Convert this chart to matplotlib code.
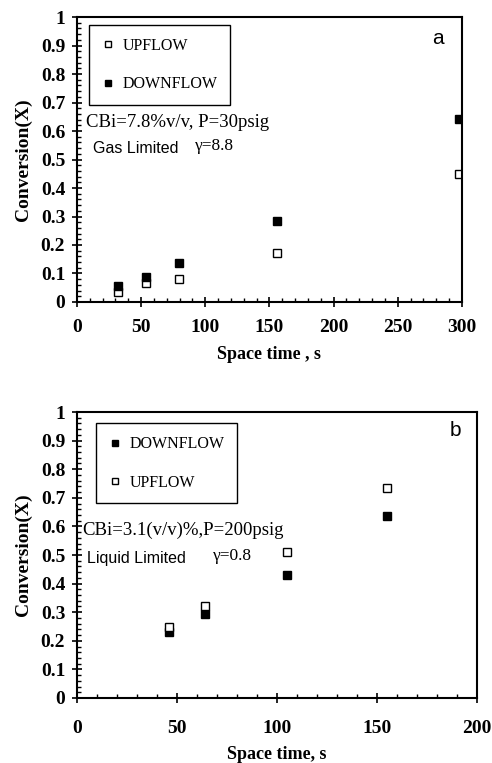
import numpy as np
import matplotlib
matplotlib.use("Agg")
import matplotlib.pyplot as plt
from matplotlib.ticker import MultipleLocator

# panel a: gas limited
time_a = [32, 53.5, 79.5, 155.5, 297.5]
up_a = [0.036, 0.065, 0.082, 0.172, 0.45]
down_a = [0.056, 0.089, 0.136, 0.283, 0.641]

# panel b: liquid limited
time_b = [46, 64, 104.8, 154.8]
up_b = [0.249, 0.322, 0.512, 0.733]
down_b = [0.232, 0.293, 0.43, 0.636]

serif = "Liberation Serif"
sans = "Liberation Sans"

fig = plt.figure(figsize=(4.92, 7.63), dpi=100)
ax1 = fig.add_axes([0.1565, 0.6042, 0.7825, 0.3735])
ax2 = fig.add_axes([0.1565, 0.0852, 0.813, 0.3748])


def style(ax, xmax, xmajor, xpad):
    ax.set_xlim(0, xmax)
    ax.set_ylim(0, 1)
    ax.xaxis.set_major_locator(MultipleLocator(xmajor))
    ax.xaxis.set_minor_locator(MultipleLocator(10))
    ax.yaxis.set_minor_locator(MultipleLocator(0.02))
    ax.set_yticks(np.arange(0, 1.01, 0.1))
    ax.set_yticklabels(["0"] + ["%.1f" % v for v in np.arange(0.1, 0.95, 0.1)] + ["1"])
    ax.tick_params(which="major", direction="inout", length=7, width=1.2)
    ax.tick_params(which="minor", direction="in", length=3, width=1.0)
    ax.tick_params(axis="x", which="major", pad=xpad)
    ax.tick_params(axis="y", which="major", pad=5)
    ax.tick_params(top=False, right=False, which="both")
    for lab in ax.get_xticklabels() + ax.get_yticklabels():
        lab.set_fontfamily(serif)
        lab.set_fontweight("bold")
        lab.set_fontsize(14)
    for s in ax.spines.values():
        s.set_linewidth(1.5)
    ax.set_ylabel("Conversion(X)", fontfamily=serif, fontweight="bold",
                  fontsize=14, labelpad=6)


mk = dict(linestyle="none", marker="s", markersize=5.5, markeredgewidth=1.0,
          markeredgecolor="black")
legkw = dict(loc="upper left", prop={"family": serif, "size": 11.5},
             fancybox=False, edgecolor="black", framealpha=1, markerscale=0.8,
             handlelength=0.75, handletextpad=0.56, labelspacing=1.4,
             borderpad=0.8, borderaxespad=0)

# ---- panel a
ax1.plot(time_a, up_a, markerfacecolor="white", label="UPFLOW", **mk)
ax1.plot(time_a, down_a, markerfacecolor="black", label="DOWNFLOW", **mk)
style(ax1, 300, 50, 9)
ax1.set_xlabel("Space time , s", fontfamily=serif, fontweight="bold",
               fontsize=13, labelpad=7)
leg = ax1.legend(bbox_to_anchor=(0.031, 0.972), **legkw)
leg.get_frame().set_linewidth(1.0)
ax1.text(0.023, 0.63, "CBi=7.8%v/v, P=30psig", transform=ax1.transAxes,
         fontfamily=serif, fontsize=13.5, va="center", ha="left")
ax1.text(0.041, 0.537, "Gas Limited", transform=ax1.transAxes,
         fontfamily=sans, fontsize=11.5, va="center", ha="left")
ax1.text(0.306, 0.548, "γ=8.8", transform=ax1.transAxes,
         fontfamily=serif, fontsize=12.5, va="center", ha="left")
ax1.text(0.938, 0.923, "a", transform=ax1.transAxes,
         fontfamily=sans, fontsize=15, va="center", ha="center")

# ---- panel b
ax2.plot(time_b, down_b, markerfacecolor="black", label="DOWNFLOW", **mk)
ax2.plot(time_b, up_b, markerfacecolor="white", label="UPFLOW", **mk)
style(ax2, 200, 50, 12)
ax2.set_xlabel("Space time, s", fontfamily=serif, fontweight="bold",
               fontsize=13, labelpad=7)
leg = ax2.legend(bbox_to_anchor=(0.047, 0.96), **legkw)
leg.get_frame().set_linewidth(1.0)
ax2.text(0.014, 0.587, "CBi=3.1(v/v)%,P=200psig", transform=ax2.transAxes,
         fontfamily=serif, fontsize=13.5, va="center", ha="left")
ax2.text(0.026, 0.488, "Liquid Limited", transform=ax2.transAxes,
         fontfamily=sans, fontsize=11.5, va="center", ha="left")
ax2.text(0.341, 0.497, "γ=0.8", transform=ax2.transAxes,
         fontfamily=serif, fontsize=12.5, va="center", ha="left")
ax2.text(0.945, 0.937, "b", transform=ax2.transAxes,
         fontfamily=sans, fontsize=15, va="center", ha="center")

fig.savefig("out.png", dpi=100)
